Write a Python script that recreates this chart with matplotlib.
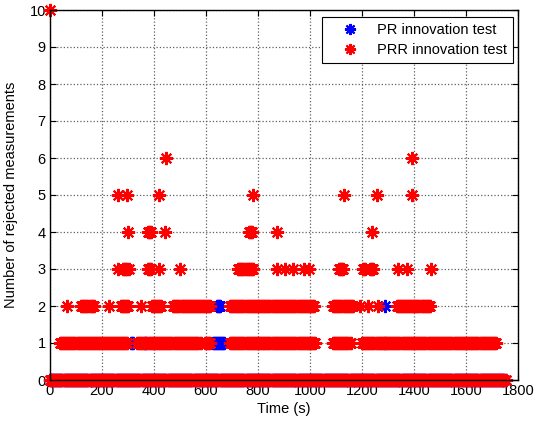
import numpy as np
import matplotlib
matplotlib.use('Agg')
import matplotlib.pyplot as plt

plt.rcParams['font.family'] = ['Liberation Sans', 'DejaVu Sans']

# ---- data: time segments (start, end) in seconds where a given number of
# measurements was rejected; single points have start == end
prr_segments = {
    0: [(0, 1752)],
    1: [(38, 300), (335, 580), (595, 615), (692, 1020), (1088, 1158), (1200, 1718)],
    2: [(64, 64), (120, 170), (228, 228), (273, 301), (349, 349), (391, 430),
        (474, 616), (692, 1019), (1089, 1166), (1192, 1192), (1223, 1223),
        (1262, 1262), (1333, 1462)],
    3: [(260, 260), (282, 302), (378, 390), (420, 420), (500, 500),
        (724, 782), (874, 874), (904, 904), (936, 936), (975, 975), (995, 995),
        (1112, 1130), (1205, 1216), (1230, 1242), (1340, 1340),
        (1372, 1372), (1464, 1464)],
    4: [(301, 301), (378, 392), (442, 442), (765, 780), (874, 874), (1240, 1240)],
    5: [(260, 260), (295, 295), (420, 420), (782, 782), (1131, 1131),
        (1259, 1259), (1393, 1393)],
    6: [(445, 445), (1393, 1393)],
    10: [(0, 0)],
}
pr_segments = {
    0: [(0, 1752)],
    1: [(312, 322), (365, 372), (625, 672), (1290, 1292)],
    2: [(642, 655), (1290, 1292)],
}
sample_step = 4  # s

series_labels = ['PR innovation test', 'PRR innovation test']
series_colors = ['#0000ff', '#ff0000']
x_ticks = list(range(0, 1801, 200))
y_ticks = list(range(0, 11))


def expand(segments):
    ts, ys = [], []
    for level, segs in segments.items():
        for a, b in segs:
            t = np.arange(a, b + 1, sample_step) if b > a else np.array([a])
            ts.append(t)
            ys.append(np.full(len(t), level))
    return np.concatenate(ts), np.concatenate(ys)


fig = plt.figure(figsize=(5.34, 4.21), dpi=100)
ax = fig.add_axes([50 / 534, 1 - 380 / 421, 468 / 534, 370 / 421])

mk = (8, 2, 0)
for segs, lab, col in zip([pr_segments, prr_segments], series_labels, series_colors):
    t, y = expand(segs)
    ax.plot(t, y, ls='none', marker=mk, markersize=9.5, markeredgewidth=1.5,
            color=col, label=lab, clip_on=False)

ax.set_xlim(0, 1800)
ax.set_ylim(0, 10)
ax.set_xticks(x_ticks)
ax.set_yticks(y_ticks)
ax.grid(True, color='#606060', linestyle=':', linewidth=0.9)
ax.set_axisbelow(True)
ax.tick_params(direction='in', top=True, right=True, length=4, labelsize=10.5,
               width=0.8, pad=3)
for s in ax.spines.values():
    s.set_linewidth(1.0)
ax.set_xlabel('Time (s)', fontsize=10.5, labelpad=3)
ax.set_ylabel('Number of rejected measurements', fontsize=10.5, labelpad=8)

leg = ax.legend(loc='upper right', bbox_to_anchor=(513 / 534, 1 - 17 / 421),
                bbox_transform=fig.transFigure, fancybox=False, framealpha=1,
                edgecolor='black', numpoints=1, fontsize=10.5, handlelength=3.1,
                handletextpad=0.3, borderpad=0.4, labelspacing=0.45,
                borderaxespad=0)
leg.get_frame().set_linewidth(0.8)
for h in leg.legend_handles:
    h.set_markersize(8)

fig.savefig('out.png', dpi=100)
